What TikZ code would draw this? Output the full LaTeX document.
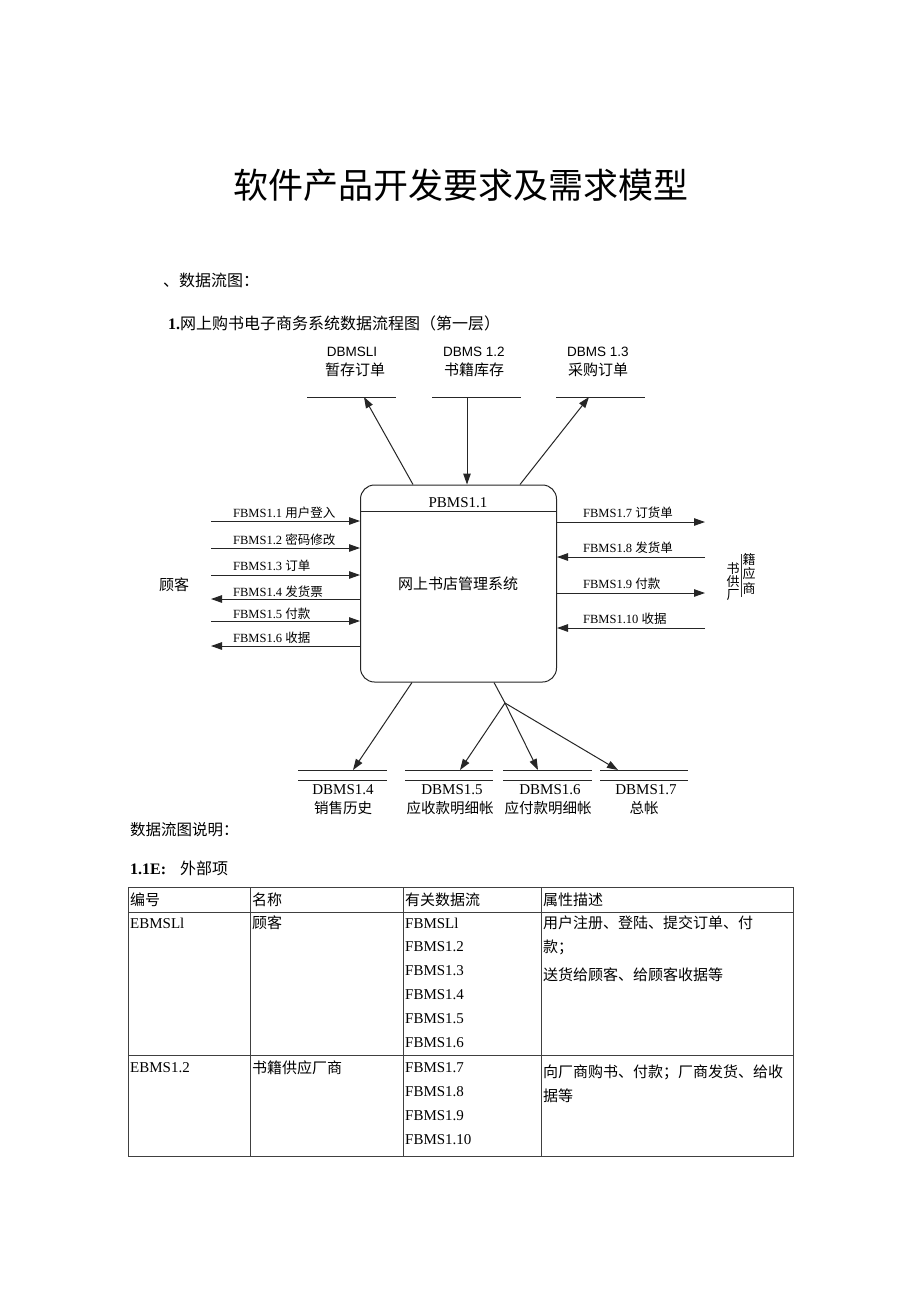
\documentclass[tikz,border=0pt]{standalone}
\usepackage{fontspec}
\setmainfont{Liberation Serif}
\newfontfamily\cjkfont{Noto Sans CJK SC}
\newfontfamily\arialfont{Liberation Sans}
\newcommand\zhtxt[1]{{\cjkfont #1}}
\usetikzlibrary{arrows.meta}
\begin{document}
\begin{tikzpicture}[x=1pt,y=-1pt,
  ln/.style={line width=1pt, draw=black!85},
  flow/.style={ln, -{Triangle[length=11pt,width=7.5pt]}},
  flab/.style={anchor=west, inner sep=0pt, font=\fontsize{12.5}{14}\selectfont, text=black},
  storeln/.style={line width=1pt, draw=black!85},
  tlab/.style={inner sep=0pt, font=\fontsize{13.5}{15}\selectfont},
  blab/.style={inner sep=0pt, font=\fontsize{15}{17}\selectfont},
  tcell/.style={anchor=west, inner sep=0pt, font=\fontsize{15}{17}\selectfont},
  tline/.style={line width=0.8pt, draw=black!75},
  ent/.style={inner sep=0pt, font=\fontsize{13}{14}\selectfont\cjkfont},
]
\useasboundingbox (0,0) rectangle (920,1301);
\fill[white] (0,0) rectangle (920,1301);

% title and headings
\node[inner sep=0pt] (title) at (461,185) {\cjkfont\fontsize{35}{40}\selectfont 软件产品开发要求及需求模型};
\node[anchor=west, inner sep=0pt] (h1) at (163,280) {\cjkfont\fontsize{16}{18}\selectfont 、数据流图：};
\node[anchor=west, inner sep=0pt] (h2) at (168,323) {\fontsize{16}{18}\selectfont\textbf{1.}\cjkfont 网上购书电子商务系统数据流程图（第一层）};

% process box
\node[draw, ln, rounded corners=14pt, minimum width=196pt, minimum height=197pt, inner sep=0pt] (sys) at (458.5,583.5) {};
\coordinate (dv) at (0,511);
\draw[ln] (sys.west |- dv) -- (sys.east |- dv);
\node[inner sep=0pt, font=\fontsize{15}{17}\selectfont] (pid) at (458,503) {PBMS1.1};
\node[inner sep=0pt, font=\fontsize{15}{17}\selectfont\cjkfont] (pname) at (458,584) {网上书店管理系统};

% top data stores
\coordinate (ts1a) at (307,397); \coordinate (ts1b) at (396,397);
\coordinate (ts2a) at (432,397); \coordinate (ts2b) at (521,397);
\coordinate (ts3a) at (556,397); \coordinate (ts3b) at (645,397);
\draw[storeln] (ts1a) -- (ts1b);
\draw[storeln] (ts2a) -- (ts2b);
\draw[storeln] (ts3a) -- (ts3b);
\node[tlab, font=\fontsize{13.5}{15}\selectfont\arialfont] (d1) at (352,352) {DBMSLI};
\node[tlab, font=\fontsize{15}{17}\selectfont\cjkfont] (d1n) at (355,370) {暂存订单};
\node[tlab, font=\fontsize{13.5}{15}\selectfont\arialfont] (d2) at (474,352) {DBMS 1.2};
\node[tlab, font=\fontsize{15}{17}\selectfont\cjkfont] (d2n) at (474,370) {书籍库存};
\node[tlab, font=\fontsize{13.5}{15}\selectfont\arialfont] (d3) at (598,352) {DBMS 1.3};
\node[tlab, font=\fontsize{15}{17}\selectfont\cjkfont] (d3n) at (598,370) {采购订单};

\coordinate (ta1) at (364,397);
\coordinate (ta2) at (467,397);
\coordinate (ta3) at (589,397);
\coordinate (tb1) at (413,0);
\coordinate (tb3) at (520,0);
\draw[flow] (sys.north -| tb1) -- (ta1);
\draw[flow] (ta2) -- (sys.north -| ta2);
\draw[flow] (sys.north -| tb3) -- (ta3);

% left entity
\node[inner sep=0pt, font=\fontsize{15}{17}\selectfont\cjkfont] (cust) at (174,585) {顾客};

\coordinate (l1) at (211,521);
\coordinate (l2) at (211,548);
\coordinate (l3) at (211,575);
\coordinate (l4) at (211,599);
\coordinate (l5) at (211,621);
\coordinate (l6) at (211,646);
\draw[flow] (l1) -- (sys.west |- l1);
\draw[flow] (l2) -- (sys.west |- l2);
\draw[flow] (l3) -- (sys.west |- l3);
\draw[flow] (sys.west |- l4) -- (l4);
\draw[flow] (l5) -- (sys.west |- l5);
\draw[flow] (sys.west |- l6) -- (l6);
\node[flab] (f1) at (233,513) {FBMS1.1 \zhtxt{用户登入}};
\node[flab] (f2) at (233,540) {FBMS1.2 \zhtxt{密码修改}};
\node[flab] (f3) at (233,566) {FBMS1.3 \zhtxt{订单}};
\node[flab] (f4) at (233,592) {FBMS1.4 \zhtxt{发货票}};
\node[flab] (f5) at (233,614) {FBMS1.5 \zhtxt{付款}};
\node[flab] (f6) at (233,638) {FBMS1.6 \zhtxt{收据}};

% right entity
\coordinate (r1) at (705,522);
\coordinate (r2) at (705,557);
\coordinate (r3) at (705,593);
\coordinate (r4) at (705,628);
\draw[flow] (sys.east |- r1) -- (r1);
\draw[flow] (r2) -- (sys.east |- r2);
\draw[flow] (sys.east |- r3) -- (r3);
\draw[flow] (r4) -- (sys.east |- r4);
\node[flab] (f7) at (583,513) {FBMS1.7 \zhtxt{订货单}};
\node[flab] (f8) at (583,548) {FBMS1.8 \zhtxt{发货单}};
\node[flab] (f9) at (583,584) {FBMS1.9 \zhtxt{付款}};
\node[flab] (f10) at (583,619) {FBMS1.10 \zhtxt{收据}};

\node[ent] (e1) at (733,569) {书};
\node[ent] (e2) at (733,582) {供};
\node[ent] (e3) at (733,595) {厂};
\node[ent] (e4) at (749,560) {籍};
\node[ent] (e5) at (749,574) {应};
\node[ent] (e6) at (749,589) {商};
\coordinate (ev1) at (741.5,554); \coordinate (ev2) at (741.5,597);
\draw[line width=0.8pt, black!80] (ev1) -- (ev2);

% bottom data stores
\foreach \xa/\xb in {298/387, 405/493, 503/592, 600/688}{
  \draw[storeln] (\xa,770) -- (\xb,770);
  \draw[storeln] (\xa,780) -- (\xb,780);
}
\node[blab] (d4) at (343,790) {DBMS1.4};
\node[blab, font=\fontsize{14.5}{16}\selectfont\cjkfont] (d4n) at (343,808) {销售历史};
\node[blab] (d5) at (452,790) {DBMS1.5};
\node[blab, font=\fontsize{14.5}{16}\selectfont\cjkfont] (d5n) at (450,808) {应收款明细帐};
\node[blab] (d6) at (550,790) {DBMS1.6};
\node[blab, font=\fontsize{14.5}{16}\selectfont\cjkfont] (d6n) at (548,808) {应付款明细帐};
\node[blab] (d7) at (646,790) {DBMS1.7};
\node[blab, font=\fontsize{14.5}{16}\selectfont\cjkfont] (d7n) at (644,808) {总帐};

\coordinate (bb1) at (412,0);
\coordinate (bb2) at (494,0);
\coordinate (br) at (505,703);
\coordinate (ba4) at (353,770);
\coordinate (ba5) at (460,770);
\coordinate (ba6) at (538,770);
\coordinate (ba7) at (618,770);
\draw[flow] (sys.south -| bb1) -- (ba4);
\draw[ln] (sys.south -| bb2) -- (br);
\draw[flow] (br) -- (ba5);
\draw[flow] (br) -- (ba6);
\draw[flow] (br) -- (ba7);

% explanation headings
\node[anchor=west, inner sep=0pt] (h3) at (130,830) {\cjkfont\fontsize{15.5}{17}\selectfont 数据流图说明：};
\node[anchor=west, inner sep=0pt] (h4) at (130,868) {\fontsize{16}{18}\selectfont\textbf{1.1E:}\hspace{14pt}\cjkfont 外部项};

% table
\draw[tline] (128,887) rectangle (793,1156);
\draw[tline] (128,912) -- (793,912);
\draw[tline] (128,1055) -- (793,1055);
\draw[tline] (250,887) -- (250,1156);
\draw[tline] (403,887) -- (403,1156);
\draw[tline] (541,887) -- (541,1156);

\node[tcell] (c11) at (130,900) {\cjkfont 编号};
\node[tcell] (c12) at (252,900) {\cjkfont 名称};
\node[tcell] (c13) at (405,900) {\cjkfont 有关数据流};
\node[tcell] (c14) at (543,900) {\cjkfont 属性描述};

\node[tcell] (c21) at (130,923) {EBMSLl};
\node[tcell] (c22) at (252,923) {\cjkfont 顾客};
\node[tcell] (c23a) at (405,923) {FBMSLl};
\node[tcell] (c23b) at (405,947) {FBMS1.2};
\node[tcell] (c23c) at (405,971) {FBMS1.3};
\node[tcell] (c23d) at (405,995) {FBMS1.4};
\node[tcell] (c23e) at (405,1019) {FBMS1.5};
\node[tcell] (c23f) at (405,1043) {FBMS1.6};
\node[tcell] (c24a) at (543,923) {\cjkfont 用户注册、登陆、提交订单、付};
\node[tcell] (c24b) at (543,947) {\cjkfont 款；};
\node[tcell] (c24c) at (543,975) {\cjkfont 送货给顾客、给顾客收据等};

\node[tcell] (c31) at (130,1068) {EBMS1.2};
\node[tcell] (c32) at (252,1068) {\cjkfont 书籍供应厂商};
\node[tcell] (c33a) at (405,1068) {FBMS1.7};
\node[tcell] (c33b) at (405,1092) {FBMS1.8};
\node[tcell] (c33c) at (405,1116) {FBMS1.9};
\node[tcell] (c33d) at (405,1140) {FBMS1.10};
\node[tcell] (c34a) at (543,1072) {\cjkfont 向厂商购书、付款；厂商发货、给收};
\node[tcell] (c34b) at (543,1096) {\cjkfont 据等};
\end{tikzpicture}
\end{document}
